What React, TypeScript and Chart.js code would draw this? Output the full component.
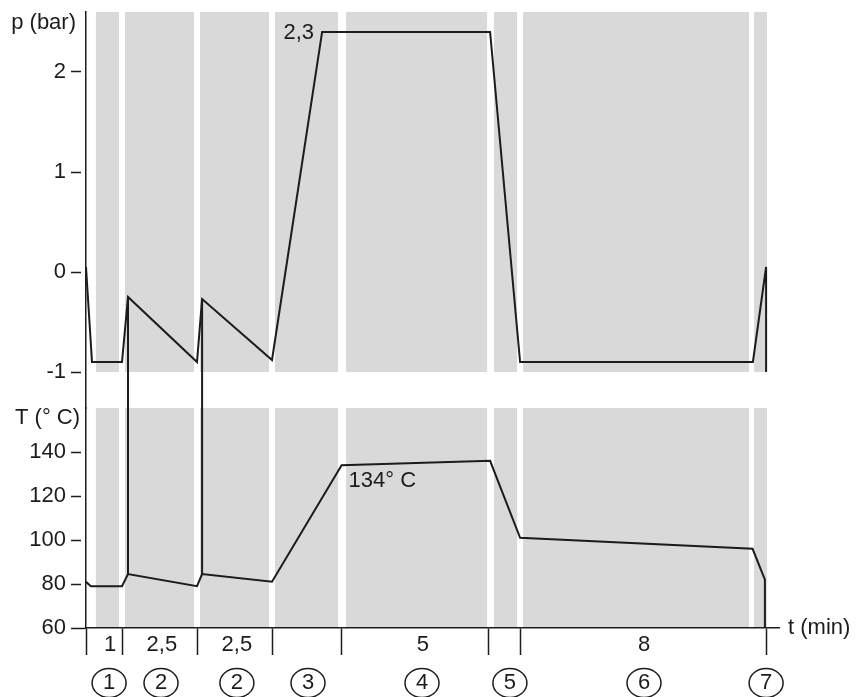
import React, { useEffect, useRef } from 'react';
import { Chart, registerables } from 'chart.js';

Chart.register(...registerables);

const FONT = '"Liberation Sans", Arial, Helvetica, sans-serif';
const FONT_SIZE = 22;
const INK = '#1c1c1c';
const GRAY = '#d9d9d9';

// ---- time axis (minutes, as laid out in the drawing) ----
const T_MAX = 23.1;
const phaseBounds = [0, 1.2, 3.7, 6.2, 8.5, 13.43, 14.47, 22.67];
const durationPos = [0.8, 2.53, 5.03, 11.23, 18.6];
const durationLabels = ['1', '2,5', '2,5', '5', '8'];
const stepPos = [0.77, 2.5, 5.03, 7.4, 11.2, 14.13, 18.6, 22.67];
const stepLabels = ['1', '2', '2', '3', '4', '5', '6', '7'];

// grey phase bands (start / end in minutes)
const bandStart = [0.33, 1.3, 3.8, 6.3, 8.67, 13.6, 14.57, 22.27];
const bandEnd = [1.1, 3.6, 6.1, 8.4, 13.37, 14.37, 22.1, 22.7];

// ---- pressure (bar) ----
const pTime = [0, 0.2, 1.2, 1.4, 3.7, 3.87, 6.2, 7.87, 13.47, 14.47, 22.23, 22.67, 22.67];
const pValue = [0.05, -0.9, -0.9, -0.25, -0.9, -0.27, -0.88, 2.4, 2.4, -0.9, -0.9, 0.05, -1];
const pTicks = [-1, 0, 1, 2];
const P_MIN = -1.36;
const P_MAX = 2.6;
const P_PANEL_MIN = -1;

// ---- temperature (°C) ----
const tempTime = [0, 0.16, 1.2, 1.4, 3.7, 3.87, 6.2, 8.52, 13.47, 14.47, 22.22, 22.63, 22.63];
const tempValue = [81, 79, 79, 84.5, 79, 84.5, 81, 134, 136, 101, 96, 82, 60];
const tempTicks = [60, 80, 100, 120, 140];
const TEMP_MIN = 60;
const TEMP_MAX = 160;

// vertical links between the two panels (times)
const linkTime = [1.4, 3.87];

// annotations
const pAnnotIndex = 7;
const pAnnotText = '2,3';
const tempAnnotIndex = 7;
const tempAnnotText = '134° C';

// combined x ticks: phase boundaries (tick marks) + duration labels
const xTicks = [
  ...phaseBounds.map((v) => ({ v, label: '' })),
  ...durationPos.map((v, i) => ({ v, label: durationLabels[i] })),
].sort((a, b) => a.v - b.v);

const font = { family: FONT, size: FONT_SIZE };
const fontStr = `${FONT_SIZE}px ${FONT}`;

const decor = {
  id: 'decor',
  beforeDraw(chart: any) {
    const { ctx } = chart;
    const x = chart.scales.x;
    const p = chart.scales.p;
    const T = chart.scales.T;
    const pTop = p.getPixelForValue(P_MAX);
    const pBot = p.getPixelForValue(P_PANEL_MIN);
    const tTop = T.getPixelForValue(TEMP_MAX);
    const tBot = T.getPixelForValue(TEMP_MIN);
    ctx.save();
    ctx.fillStyle = GRAY;
    bandStart.forEach((s, i) => {
      const x0 = x.getPixelForValue(s);
      const x1 = x.getPixelForValue(bandEnd[i]);
      ctx.fillRect(x0, pTop, x1 - x0, pBot - pTop);
      ctx.fillRect(x0, tTop, x1 - x0, tBot - tTop);
    });
    ctx.restore();
  },
  afterDraw(chart: any) {
    const { ctx } = chart;
    const x = chart.scales.x;
    const xc = chart.scales.xc;
    const p = chart.scales.p;
    const T = chart.scales.T;
    ctx.save();
    // links between panels
    ctx.strokeStyle = INK;
    ctx.lineWidth = 2;
    linkTime.forEach((t) => {
      const pi = pTime.indexOf(t);
      const ti = tempTime.indexOf(t);
      const px = x.getPixelForValue(t);
      ctx.beginPath();
      ctx.moveTo(px, p.getPixelForValue(pValue[pi]));
      ctx.lineTo(px, T.getPixelForValue(tempValue[ti]));
      ctx.stroke();
    });
    // text
    ctx.fillStyle = INK;
    ctx.font = fontStr;
    ctx.textAlign = 'right';
    ctx.textBaseline = 'middle';
    ctx.fillText(
      pAnnotText,
      x.getPixelForValue(pTime[pAnnotIndex]) - 8,
      p.getPixelForValue(pValue[pAnnotIndex]) + 1
    );
    ctx.textAlign = 'left';
    ctx.textBaseline = 'top';
    ctx.fillText(
      tempAnnotText,
      x.getPixelForValue(tempTime[tempAnnotIndex]) + 7,
      T.getPixelForValue(tempValue[tempAnnotIndex]) + 5
    );
    // axis titles
    ctx.textAlign = 'right';
    ctx.textBaseline = 'alphabetic';
    ctx.fillText('p (bar)', p.right - 10, p.top + 17);
    ctx.fillText('T (° C)', T.right - 6, T.top + 16);
    ctx.textAlign = 'left';
    ctx.textBaseline = 'middle';
    ctx.fillText('t (min)', x.right + 9, x.top);
    // circles around step numbers
    ctx.lineWidth = 1.5;
    const cy = xc.top + 15;
    stepPos.forEach((s) => {
      const cx = xc.getPixelForValue(s);
      ctx.beginPath();
      ctx.ellipse(cx, cy, 17, 14.5, 0, 0, Math.PI * 2);
      ctx.stroke();
    });
    ctx.restore();
  },
};

const lineStyle = {
  borderColor: INK,
  borderWidth: 2,
  pointRadius: 0,
  tension: 0,
  fill: false,
  borderJoinStyle: 'miter' as const,
};

const fitLeft = (s: any) => {
  s.width = 86;
  s.paddingTop = 0;
  s.paddingBottom = 0;
};

export default function App() {
  const ref = useRef<HTMLCanvasElement>(null);
  useEffect(() => {
    const chart = new Chart(ref.current as HTMLCanvasElement, {
      type: 'line',
      data: {
        datasets: [
          {
            label: 'p (bar)',
            data: pTime.map((t, i) => ({ x: t, y: pValue[i] })),
            xAxisID: 'x',
            yAxisID: 'p',
            ...lineStyle,
          },
          {
            label: 'T (° C)',
            data: tempTime.map((t, i) => ({ x: t, y: tempValue[i] })),
            xAxisID: 'x',
            yAxisID: 'T',
            ...lineStyle,
          },
        ],
      },
      options: {
        animation: false,
        responsive: false,
        devicePixelRatio: 1,
        events: [],
        layout: { padding: { left: 0, top: 12, right: 83, bottom: 0 } },
        plugins: {
          legend: { display: false },
          tooltip: { enabled: false },
          title: { display: false },
        },
        scales: {
          x: {
            type: 'linear',
            position: 'bottom',
            min: 0,
            max: T_MAX,
            border: { display: true, color: INK, width: 1.5 },
            grid: {
              drawOnChartArea: false,
              drawTicks: true,
              tickLength: 27,
              tickWidth: 1.5,
              tickColor: (c: any) =>
                c.tick && phaseBounds.includes(c.tick.value) ? INK : 'rgba(0,0,0,0)',
            },
            ticks: {
              autoSkip: false,
              maxRotation: 0,
              minRotation: 0,
              padding: -23.2,
              color: INK,
              font,
              callback: (_v: any, i: number) => (xTicks[i] ? xTicks[i].label : ''),
            },
            afterBuildTicks: (s: any) => {
              s.ticks = xTicks.map((t) => ({ value: t.v }));
            },
            afterFit: (s: any) => {
              s.height = 40;
            },
          },
          xc: {
            type: 'linear',
            position: 'bottom',
            min: 0,
            max: T_MAX,
            border: { display: false },
            grid: { display: false, drawTicks: false, drawOnChartArea: false },
            ticks: {
              autoSkip: false,
              maxRotation: 0,
              minRotation: 0,
              padding: 1.8,
              color: INK,
              font,
              callback: (_v: any, i: number) => stepLabels[i],
            },
            afterBuildTicks: (s: any) => {
              s.ticks = stepPos.map((v) => ({ value: v }));
            },
            afterFit: (s: any) => {
              s.height = 29;
            },
          },
          T: {
            type: 'linear',
            position: 'left',
            stack: 'left',
            stackWeight: 220,
            min: TEMP_MIN,
            max: TEMP_MAX,
            border: { display: true, color: INK, width: 1.5 },
            grid: {
              drawOnChartArea: false,
              tickLength: 15,
              tickWidth: 1.5,
              tickColor: INK,
              tickBorderDash: (c: any) =>
                c.tick && c.tick.value === TEMP_MIN ? [] : [10, 30],
            },
            ticks: { padding: 5, color: INK, font, callback: (v: any) => String(v) },
            afterBuildTicks: (s: any) => {
              s.ticks = tempTicks.map((v) => ({ value: v }));
            },
            afterFit: fitLeft,
          },
          p: {
            type: 'linear',
            position: 'left',
            stack: 'left',
            stackWeight: 396,
            min: P_MIN,
            max: P_MAX,
            border: { display: true, color: INK, width: 1.5 },
            grid: {
              drawOnChartArea: false,
              tickLength: 15,
              tickWidth: 1.5,
              tickColor: INK,
              tickBorderDash: [10, 30],
            },
            ticks: { padding: 5, color: INK, font, callback: (v: any) => String(v) },
            afterBuildTicks: (s: any) => {
              s.ticks = pTicks.map((v) => ({ value: v }));
            },
            afterFit: fitLeft,
          },
        },
      } as any,
      plugins: [decor],
    });
    return () => chart.destroy();
  }, []);

  return (
    <div
      style={{
        position: 'fixed',
        left: 0,
        top: 0,
        width: 862,
        height: 697,
        background: '#fff',
        overflow: 'hidden',
      }}
    >
      <canvas ref={ref} width={862} height={697} style={{ display: 'block', width: 862, height: 697 }} />
    </div>
  );
}
